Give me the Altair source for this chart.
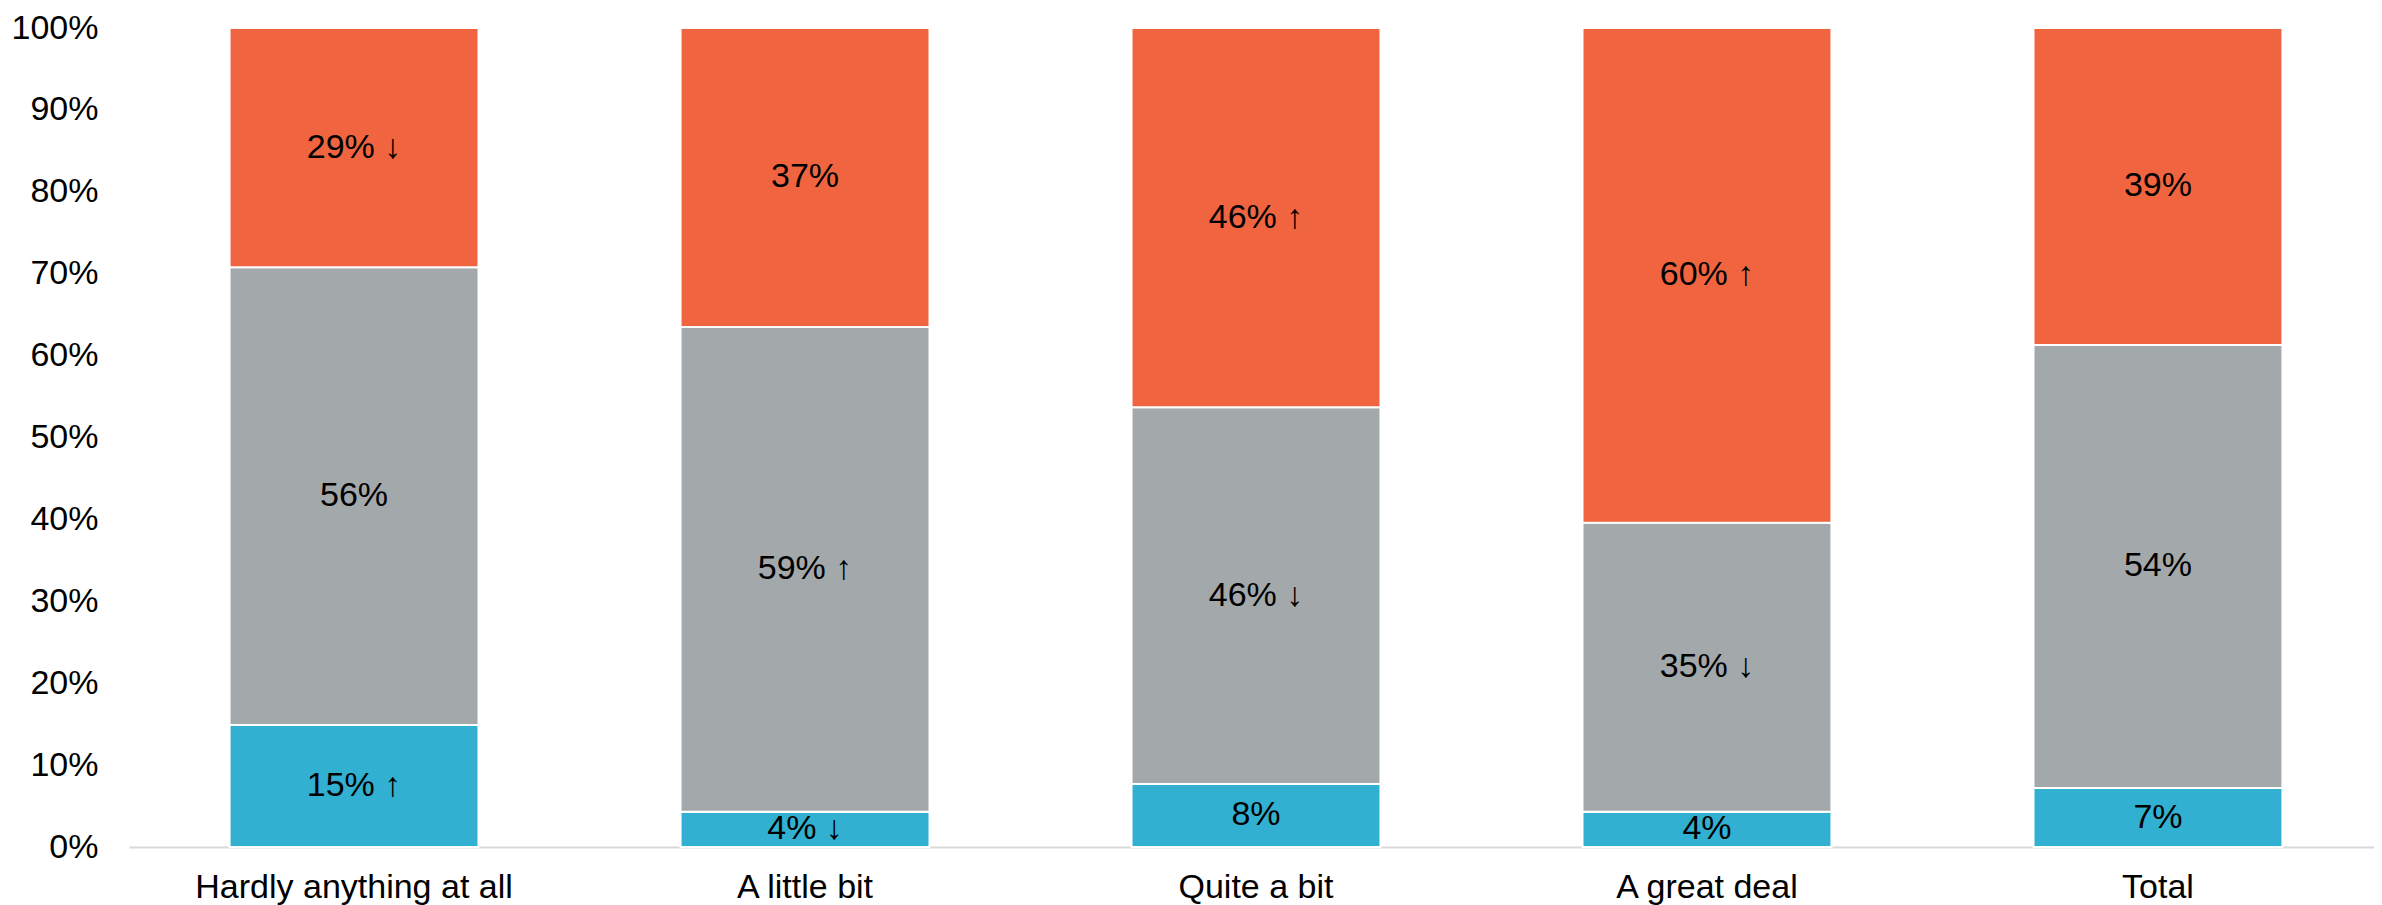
import altair as alt
import pandas as pd

categories = ["Hardly anything at all", "A little bit", "Quite a bit", "A great deal", "Total"]
series = ["Low", "Middle", "High"]
colors = ["#31B0D1", "#A3A8AB", "#F0653F"]

low_values = [14.9, 4.3, 7.7, 4.3, 7.2]
mid_values = [55.9, 59.2, 46.0, 35.3, 54.1]
high_values = [29.2, 36.5, 46.3, 60.4, 38.7]

low_labels = ["15% ↑", "4% ↓", "8%", "4%", "7%"]
mid_labels = ["56%", "59% ↑", "46% ↓", "35% ↓", "54%"]
high_labels = ["29% ↓", "37%", "46% ↑", "60% ↑", "39%"]

rows = []
for i, c in enumerate(categories):
    for j, (s, vals, labs) in enumerate(zip(series, [low_values, mid_values, high_values],
                                            [low_labels, mid_labels, high_labels])):
        rows.append({"category": c, "series": s, "order": j, "value": vals[i], "label": labs[i]})
df = pd.DataFrame(rows)

FONT = "Liberation Sans"
FS = 34

base = alt.Chart(df).transform_stack(
    stack="value", groupby=["category"], as_=["y0", "y1"], sort=[alt.SortField("order")]
).transform_calculate(mid="(datum.y0 + datum.y1) / 2")

x_enc = alt.X("category:N", sort=categories, title=None,
              scale=alt.Scale(paddingInner=0.448, paddingOuter=0.223, range=[0, 2254]),
              axis=alt.Axis(labelAngle=0, ticks=False, domainColor="#d9d9d9", domainWidth=2,
                            labelFont=FONT, labelFontSize=FS, labelColor="#000000",
                            labelPadding=23, labelLimit=0))

bars = base.mark_bar(stroke="white", strokeWidth=2).encode(
    x=x_enc,
    y=alt.Y("y0:Q", title=None, scale=alt.Scale(domain=[0, 100], nice=False),
            axis=alt.Axis(values=list(range(0, 101, 10)), labelExpr="datum.value + '%'",
                          grid=False, ticks=False, domain=False, labelFont=FONT,
                          labelFontSize=FS, labelColor="#000000", labelPadding=31)),
    y2="y1:Q",
    color=alt.Color("series:N", scale=alt.Scale(domain=series, range=colors), legend=None),
)

texts = base.mark_text(font=FONT, fontSize=FS, color="#000000", baseline="middle").encode(
    x=alt.X("category:N", sort=categories),
    y=alt.Y("mid:Q"),
    text="label:N",
)

chart = (bars + texts).properties(
    width=2245, height=819,
    autosize=alt.AutoSizeParams(type="none"),
    padding={"left": 121, "top": 20, "right": 0, "bottom": 60},
).configure_view(stroke=None)

chart.save("out.html", embed_options={"renderer": "svg", "actions": False})
